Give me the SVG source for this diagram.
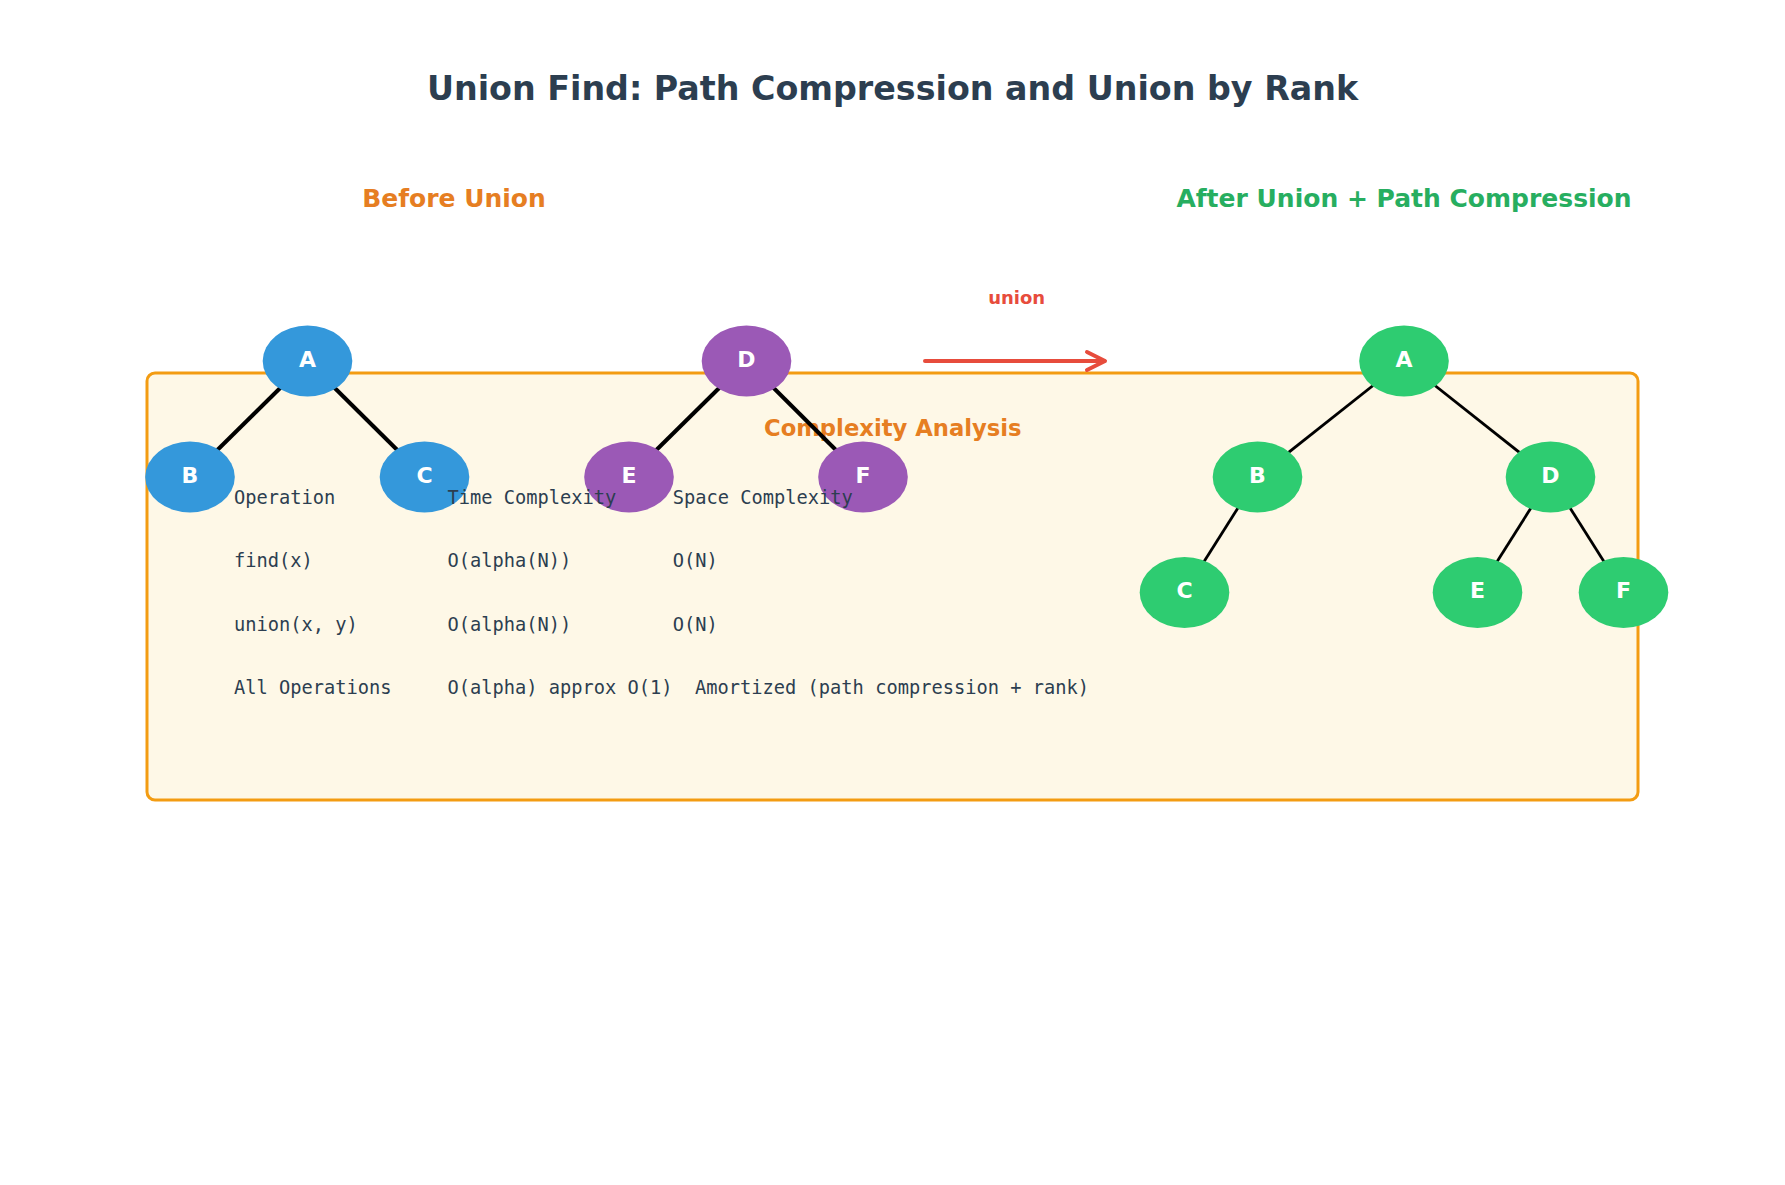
<svg xmlns="http://www.w3.org/2000/svg" width="1785" height="1185" viewBox="0 0 1785 1185">
<style>
.title{font-family:"DejaVu Sans",sans-serif;font-weight:bold;font-size:33.3px;fill:#2c3e50;text-anchor:middle}
.head{font-family:"DejaVu Sans",sans-serif;font-weight:bold;font-size:25px;text-anchor:middle}
.lbl{font-family:"DejaVu Sans",sans-serif;font-weight:bold;font-size:22px;fill:#ffffff;text-anchor:middle}
.mono{font-family:"DejaVu Sans Mono",monospace;font-size:18.7px;fill:#2c3e50}
.e1{stroke:#000;stroke-width:4;fill:none}
.e2{stroke:#000;stroke-width:2.8;fill:none}
.blue{fill:#3498db}.purple{fill:#9b59b6}.green{fill:#2ecc71}
</style>
<rect width="1785" height="1185" fill="#ffffff"/>
<text class="title" x="892.5" y="100">Union Find: Path Compression and Union by Rank</text>
<text class="head" x="454" y="206.7" fill="#e67e22">Before Union</text>
<text class="head" x="1404" y="206.7" fill="#27ae60">After Union + Path Compression</text>
<g id="complexity-box">
<rect x="147" y="373" width="1491" height="427" rx="8" fill="#fef8e7" stroke="#f39c12" stroke-width="3"/>
<text x="892.8" y="436" font-family="DejaVu Sans, sans-serif" font-weight="bold" font-size="22.7" fill="#e67e22" text-anchor="middle">Complexity Analysis</text>
</g>
<g id="connectors">
<line class="e1" x1="307.5" y1="361" x2="190" y2="477"/>
<line class="e1" x1="307.5" y1="361" x2="424.5" y2="477"/>
<line class="e1" x1="746.5" y1="361" x2="629" y2="477"/>
<line class="e1" x1="746.5" y1="361" x2="863" y2="477"/>
<line class="e2" x1="1404" y1="361" x2="1257.5" y2="477"/>
<line class="e2" x1="1404" y1="361" x2="1550.5" y2="477"/>
<line class="e2" x1="1257.5" y1="477" x2="1184.5" y2="592.5"/>
<line class="e2" x1="1550.5" y1="477" x2="1477.5" y2="592.5"/>
<line class="e2" x1="1550.5" y1="477" x2="1623.5" y2="592.5"/>
<g id="union-arrow">
<line x1="925" y1="361" x2="1104" y2="361" stroke="#e74c3c" stroke-width="4" stroke-linecap="round"/>
<polyline points="1087,352 1105,361 1087,370" fill="none" stroke="#e74c3c" stroke-width="4" stroke-linecap="round" stroke-linejoin="round"/>
<text x="1016.7" y="304" font-family="DejaVu Sans, sans-serif" font-weight="bold" font-size="18" fill="#e74c3c" text-anchor="middle">union</text>
</g>
</g>
<g id="before-A"><ellipse class="blue" cx="307.5" cy="361" rx="44.8" ry="35.5"/><text class="lbl" x="307.5" y="366.7">A</text></g>
<g id="before-B"><ellipse class="blue" cx="190" cy="477" rx="44.8" ry="35.5"/><text class="lbl" x="190" y="482.7">B</text></g>
<g id="before-C"><ellipse class="blue" cx="424.5" cy="477" rx="44.8" ry="35.5"/><text class="lbl" x="424.5" y="482.7">C</text></g>
<g id="before-D"><ellipse class="purple" cx="746.5" cy="361" rx="44.8" ry="35.5"/><text class="lbl" x="746.5" y="366.7">D</text></g>
<g id="before-E"><ellipse class="purple" cx="629" cy="477" rx="44.8" ry="35.5"/><text class="lbl" x="629" y="482.7">E</text></g>
<g id="before-F"><ellipse class="purple" cx="863" cy="477" rx="44.8" ry="35.5"/><text class="lbl" x="863" y="482.7">F</text></g>
<g id="after-A"><ellipse class="green" cx="1404" cy="361" rx="44.8" ry="35.5"/><text class="lbl" x="1404" y="366.7">A</text></g>
<g id="after-B"><ellipse class="green" cx="1257.5" cy="477" rx="44.8" ry="35.5"/><text class="lbl" x="1257.5" y="482.7">B</text></g>
<g id="after-D"><ellipse class="green" cx="1550.5" cy="477" rx="44.8" ry="35.5"/><text class="lbl" x="1550.5" y="482.7">D</text></g>
<g id="after-C"><ellipse class="green" cx="1184.5" cy="592.5" rx="44.8" ry="35.5"/><text class="lbl" x="1184.5" y="598.2">C</text></g>
<g id="after-E"><ellipse class="green" cx="1477.5" cy="592.5" rx="44.8" ry="35.5"/><text class="lbl" x="1477.5" y="598.2">E</text></g>
<g id="after-F"><ellipse class="green" cx="1623.5" cy="592.5" rx="44.8" ry="35.5"/><text class="lbl" x="1623.5" y="598.2">F</text></g>
<g id="complexity-table">
<text class="mono" x="234" y="504">Operation</text>
<text class="mono" x="447.6" y="504">Time Complexity</text>
<text class="mono" x="672.7" y="504">Space Complexity</text>
<text class="mono" x="234" y="567.3">find(x)</text>
<text class="mono" x="447.6" y="567.3">O(alpha(N))</text>
<text class="mono" x="672.7" y="567.3">O(N)</text>
<text class="mono" x="234" y="630.6">union(x, y)</text>
<text class="mono" x="447.6" y="630.6">O(alpha(N))</text>
<text class="mono" x="672.7" y="630.6">O(N)</text>
<text class="mono" x="234" y="693.9">All Operations</text>
<text class="mono" x="447.6" y="693.9" xml:space="preserve">O(alpha) approx O(1)  Amortized (path compression + rank)</text>
</g>
</svg>
